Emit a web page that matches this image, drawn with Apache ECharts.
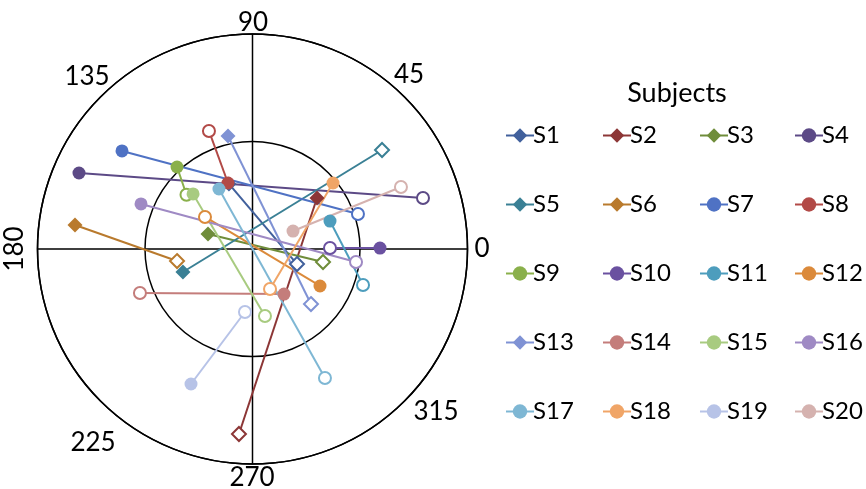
<!DOCTYPE html>
<html>
<head>
<meta charset="utf-8">
<script src="https://cdn.jsdelivr.net/npm/echarts@6/dist/echarts.min.js"></script>
<style>
  html, body { margin: 0; padding: 0; background: #ffffff; }
  #chart { width: 866px; height: 489px; }
</style>
</head>
<body>
<div id="chart"></div>
<script>
// Subjects and their marker styles
const subjects = ['S1','S2','S3','S4','S5','S6','S7','S8','S9','S10',
                  'S11','S12','S13','S14','S15','S16','S17','S18','S19','S20'];
const markerShapes = ['diamond','diamond','diamond','circle','diamond','diamond','circle','circle','circle','circle',
                      'circle','circle','diamond','circle','circle','circle','circle','circle','circle','circle'];
const seriesColors = ['#41609c','#8c3636','#6f8d3a','#5c4a86','#3a8095','#b97a2d','#4f72c4','#b24a47','#8ab04b','#6a51a0',
                      '#4d9dbd','#db8a3b','#7f92d4','#c47d7b','#a8cb80','#9f8ac4','#7eb7d4','#f0a567','#b7c3e7','#d5b2af'];

// Start point (filled marker) and end point (open marker), cartesian, inner ring = 1, outer ring = 2
const startX = [-0.219, 0.600, -0.414, -1.614, -0.647, -1.651, -1.214, -0.228, -0.702, 1.186,
                 0.721, 0.628, -0.228, 0.293, -0.553, -1.037, -0.312, 0.749, -0.572, 0.377];
const startY = [ 0.605, 0.474, 0.140, 0.707, -0.214, 0.223, 0.912, 0.614, 0.763, 0.009,
                 0.260, -0.344, 1.051, -0.419, 0.512, 0.419, 0.558, 0.614, -1.256, 0.167];
const endX   = [ 0.414, -0.126, 0.656, 1.586, 1.205, -0.702, 0.981, -0.405, -0.614, 0.721,
                 1.028, -0.442, 0.544, -1.047, 0.116, 0.963, 0.674, 0.163, -0.070, 1.381];
const endY   = [-0.140, -1.721, -0.121, 0.474, 0.921, -0.112, 0.326, 1.098, 0.505, 0.009,
                -0.335, 0.298, -0.512, -0.409, -0.623, -0.121, -1.200, -0.372, -0.586, 0.577];

// Direction labels around the dial
const angleLabels = ['0','45','90','135','180','225','270','315'];

const chart = echarts.init(document.getElementById('chart'), null, { renderer: 'canvas' });

function toPolar(x, y) {
  const r = Math.sqrt(x * x + y * y);
  const a = (Math.atan2(y, x) * 180 / Math.PI + 360) % 360;
  return [r, a];
}

const series = subjects.map(function (name, i) {
  const shape = markerShapes[i];
  const color = seriesColors[i];
  return {
    name: name,
    type: 'line',
    coordinateSystem: 'polar',
    symbol: shape,
    symbolSize: shape === 'diamond' ? 15 : 13,
    color: color,
    lineStyle: { color: color, width: 2 },
    itemStyle: { color: color },
    animation: false,
    data: [
      { value: toPolar(startX[i], startY[i]), symbol: shape,
        itemStyle: { color: color, borderWidth: 0 } },
      { value: toPolar(endX[i], endY[i]),
        symbol: shape === 'diamond' ? 'emptyDiamond' : 'emptyCircle',
        symbolSize: shape === 'diamond' ? 14 : 12,
        itemStyle: { color: color, borderColor: color, borderWidth: 2 } }
    ]
  };
});

const labelFont = '26px Lato';
const labelPos = {
  '0':   [482, 249],
  '45':  [409, 75],
  '90':  [253, 23],
  '135': [87, 77],
  '180': [15, 249],
  '225': [93, 443],
  '270': [252, 478],
  '315': [436, 412]
};
const graphics = angleLabels.map(function (t) {
  const p = labelPos[t];
  return {
    type: 'text',
    x: p[0], y: p[1],
    rotation: t === '180' ? Math.PI / 2 : 0,
    style: { text: t, font: labelFont, fill: '#000', align: 'center', verticalAlign: 'middle' }
  };
});
graphics.push({
  type: 'text', x: 677, y: 93,
  style: { text: 'Subjects', font: '27px Lato', fill: '#000', align: 'center', verticalAlign: 'middle' }
});

const legendCols = [[0,4,8,12,16],[1,5,9,13,17],[2,6,10,14,18],[3,7,11,15,19]];
const legendLeft = [500, 597, 694, 789];
const legends = legendCols.map(function (col, c) {
  return {
    orient: 'vertical',
    left: legendLeft[c],
    top: 118,
    itemWidth: 28,
    itemHeight: 18,
    itemGap: 44,
    selectedMode: false,
    data: col.map(function (i) { return subjects[i]; }),
    textStyle: { fontFamily: 'Lato', fontSize: 24, color: '#000', padding: [0, 0, 0, -6], lineHeight: 25 }
  };
});

chart.setOption({
  backgroundColor: '#ffffff',
  animation: false,
  polar: { center: [252.5, 249], radius: 215 },
  angleAxis: {
    type: 'value', min: 0, max: 360, interval: 90,
    startAngle: 0, clockwise: false,
    axisLine: { show: true, lineStyle: { color: '#000', width: 1.5 } },
    axisTick: { show: false },
    axisLabel: { show: false },
    splitLine: { show: true, lineStyle: { color: '#000', width: 1.5 } }
  },
  radiusAxis: {
    type: 'value', min: 0, max: 2, interval: 1,
    axisLine: { show: false },
    axisTick: { show: false },
    axisLabel: { show: false },
    splitLine: { show: true, lineStyle: { color: '#000', width: 1.5 } }
  },
  legend: legends,
  graphic: graphics,
  series: series
});
</script>
</body>
</html>
